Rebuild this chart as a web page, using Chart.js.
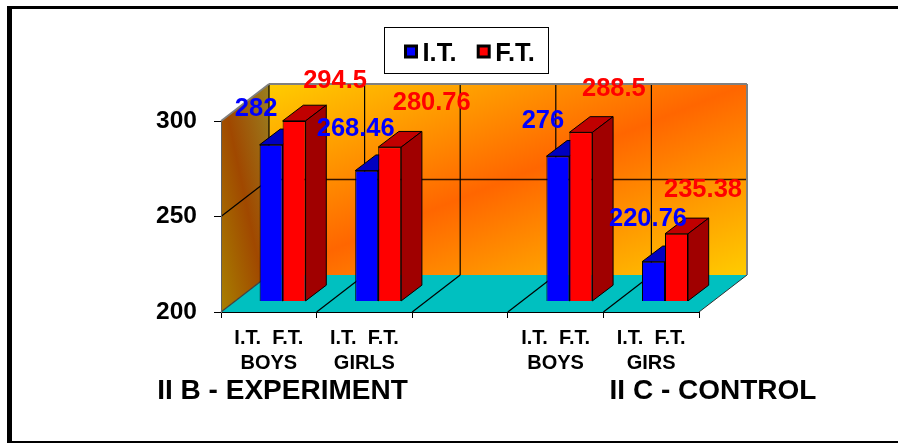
<!DOCTYPE html>
<html>
<head>
<meta charset="utf-8">
<style>
  html, body { margin: 0; padding: 0; background: #fff; }
  canvas { display: block; }
</style>
<script src="https://cdn.jsdelivr.net/npm/chart.js@4/dist/chart.umd.min.js"></script>
</head>
<body>
<canvas id="chart" width="898" height="443"></canvas>
<script>
const categories = [
  ["I.T.  F.T.", "BOYS"],
  ["I.T.  F.T.", "GIRLS"],
  "",
  ["I.T.  F.T.", "BOYS"],
  ["I.T.  F.T.", "GIRS"],
];
const itValues = [282, 268.46, null, 276, 220.76];
const ftValues = [294.5, 280.76, null, 288.5, 235.38];
const groupTitles = ["II B - EXPERIMENT", "II C - CONTROL"];
const axisMin = 200;
const axisMax = 300;

const FONT = '"Liberation Sans", Arial, sans-serif';

// 3d look of the old excel chart
const depthX = 48;
const depthY = 37;
const barShiftX = 13.8;
const barShiftY = 10.6;
const barDepthX = 20.7;
const barDepthY = 15.7;

// data labels were moved by hand in the original, so each one has its own offset from the bar top
const itLabelOffsets = [[-15, -37], [-11, -43], null, [-15, -36], [-5.5, -44]];
const ftLabelOffsets = [[41, -41], [42, -45], null, [33, -44], [26.5, -45]];
const groupTitlePos = [[282.5, 391], [713, 391]];

function diagGradient(ctx, x0, y0, x1, y1, up, stops) {
  let w = x1 - x0;
  let h = y1 - y0;
  let len = Math.sqrt(w * w + h * h);
  let half = (w * h) / len;
  let nx = h / len;
  let ny = ((up ? -1 : 1) * w) / len;
  let cx = (x0 + x1) / 2;
  let cy = (y0 + y1) / 2;
  let g = ctx.createLinearGradient(cx - nx * half, cy - ny * half, cx + nx * half, cy + ny * half);
  stops.forEach((c, i) => g.addColorStop(i / (stops.length - 1), c));
  return g;
}

function poly(ctx, pts, fill, stroke, lw) {
  ctx.beginPath();
  pts.forEach((p, i) => (i ? ctx.lineTo(p[0], p[1]) : ctx.moveTo(p[0], p[1])));
  ctx.closePath();
  if (fill) {
    ctx.fillStyle = fill;
    ctx.fill();
  }
  if (stroke) {
    ctx.strokeStyle = stroke;
    ctx.lineWidth = lw || 1;
    ctx.stroke();
  }
}

function line(ctx, x0, y0, x1, y1, color, lw) {
  ctx.beginPath();
  ctx.moveTo(x0, y0);
  ctx.lineTo(x1, y1);
  ctx.strokeStyle = color;
  ctx.lineWidth = lw;
  ctx.stroke();
}

const frame3d = {
  id: "frame3d",
  beforeDraw(chart) {
    let ctx = chart.ctx;
    let a = chart.chartArea;
    let y = chart.scales.y;
    let catW = (a.right - a.left) / categories.length;

    ctx.save();
    // outer frame, the right side has none
    ctx.fillStyle = "#000";
    ctx.fillRect(7, 6, 891, 3);
    ctx.fillRect(7, 6, 5, 437);
    ctx.fillRect(7, 441, 891, 2);

    let backL = a.left + depthX;
    let backR = a.right + depthX;
    let backT = a.top - depthY;
    let backB = a.bottom - depthY;

    // back wall
    poly(ctx, [[backL, backT], [backR, backT], [backR, backB], [backL, backB]],
      diagGradient(ctx, backL, backT, backR, backB, false, ["#ffcc00", "#ff6600", "#ffcc00"]));
    // side wall
    poly(ctx, [[a.left, a.top], [backL, backT], [backL, backB], [a.left, a.bottom]],
      diagGradient(ctx, a.left, backT, backL, a.bottom, true, ["#a88000", "#a04800", "#9a8020"]));
    // floor
    poly(ctx, [[a.left, a.bottom], [a.right, a.bottom], [backR, backB], [backL, backB]], "#00c0c0");

    // value grid lines
    y.ticks.forEach((t) => {
      let py = y.getPixelForValue(t.value);
      if (t.value === y.min || t.value === y.max) return;
      line(ctx, a.left, py, backL, py - depthY, "#000", 1.2);
      line(ctx, backL, py - depthY, backR, py - depthY, "#301000", 1.6);
    });

    // category lines on back wall and floor
    for (let i = 0; i <= categories.length; i++) {
      let px = a.left + i * catW;
      if (i > 0 && i < categories.length) {
        line(ctx, px + depthX, backT, px + depthX, backB, "#000", 1.2);
      }
      if (i === 0) {
        line(ctx, backL, backT, backL, backB, "#000", 1.2);
      }
      if (i < categories.length) {
        line(ctx, px, a.bottom, px + depthX, backB, i === 0 ? "#404040" : "#000", 1.2);
      }
    }
    line(ctx, a.right, a.bottom, backR, backB, "#303030", 1);

    // grey wall edges
    line(ctx, a.left, a.top, backL, backT, "#808080", 1.6);
    line(ctx, backL, backT, backR, backT, "#808080", 2);
    line(ctx, backR, backT, backR, backB, "#808080", 2);
    ctx.restore();
  },
  beforeDatasetsDraw(chart) {
    let ctx = chart.ctx;
    ctx.save();
    ctx.translate(barShiftX, -barShiftY);
    // top and side faces first, front faces come from chart.js on top of them
    chart.data.datasets.forEach((ds, di) => {
      chart.getDatasetMeta(di).data.forEach((bar, i) => {
        if (ds.data[i] == null) return;
        let l = bar.x - bar.width / 2;
        let r = bar.x + bar.width / 2;
        poly(ctx, [[l, bar.y], [l + barDepthX, bar.y - barDepthY], [r + barDepthX, bar.y - barDepthY], [r, bar.y]],
          ds.topColor, "#000", 1);
        poly(ctx, [[r, bar.y], [r + barDepthX, bar.y - barDepthY], [r + barDepthX, bar.base - barDepthY], [r, bar.base]],
          ds.sideColor, "#000", 1);
      });
    });
  },
  afterDatasetsDraw(chart) {
    let ctx = chart.ctx;
    ctx.restore();

    // data labels
    ctx.save();
    ctx.font = "bold 25.5px " + FONT;
    ctx.textAlign = "center";
    ctx.textBaseline = "middle";
    chart.data.datasets.forEach((ds, di) => {
      ctx.fillStyle = ds.backgroundColor;
      chart.getDatasetMeta(di).data.forEach((bar, i) => {
        if (ds.data[i] == null) return;
        let off = ds.labelOffsets[i];
        ctx.fillText(String(ds.data[i]), bar.x + barShiftX + off[0], bar.y - barShiftY + off[1] + 1);
      });
    });
    ctx.restore();
  },
  afterDraw(chart) {
    let ctx = chart.ctx;
    ctx.save();

    // group titles under the axis
    ctx.fillStyle = "#000";
    ctx.font = "bold 28px " + FONT;
    ctx.textAlign = "center";
    ctx.textBaseline = "middle";
    groupTitles.forEach((t, i) => ctx.fillText(t, groupTitlePos[i][0], groupTitlePos[i][1]));

    // legend box
    ctx.fillStyle = "#fff";
    ctx.fillRect(385, 27, 164, 47);
    ctx.strokeStyle = "#000";
    ctx.lineWidth = 1;
    ctx.strokeRect(384.5, 27.5, 164, 46);
    ctx.font = "bold 25.5px " + FONT;
    ctx.textAlign = "left";
    [405.5, 478.2].forEach((x, i) => {
      let ds = chart.data.datasets[i];
      ctx.fillStyle = ds.backgroundColor;
      ctx.fillRect(x, 46, 11, 11);
      ctx.lineWidth = 3;
      ctx.strokeRect(x, 46, 11, 11);
      ctx.fillStyle = "#000";
      ctx.fillText(ds.label, x + 17, 53.5);
    });
    ctx.restore();
  },
};

new Chart(document.getElementById("chart"), {
  type: "bar",
  data: {
    labels: categories,
    datasets: [
      {
        label: "I.T.",
        data: itValues,
        base: axisMin,
        backgroundColor: "#0000ff",
        topColor: "#0000c0",
        sideColor: "#000090",
        labelOffsets: itLabelOffsets,
        borderColor: "#000",
        borderWidth: 1,
        clip: false,
      },
      {
        label: "F.T.",
        data: ftValues,
        base: axisMin,
        backgroundColor: "#ff0000",
        topColor: "#c00000",
        sideColor: "#a00000",
        labelOffsets: ftLabelOffsets,
        borderColor: "#000",
        borderWidth: 1,
        clip: false,
      },
    ],
  },
  options: {
    responsive: false,
    animation: false,
    categoryPercentage: 0.481,
    barPercentage: 1,
    layout: { padding: { left: 0, top: 121, right: 199, bottom: 0 } },
    plugins: {
      legend: { display: false },
      tooltip: { enabled: false },
    },
    scales: {
      x: {
        afterFit(scale) {
          scale.height = 131;
        },
        grid: { drawOnChartArea: false, color: "#000", tickLength: 6, tickWidth: 1 },
        border: { color: "#000", width: 1 },
        ticks: {
          color: "#000",
          font: { family: FONT, size: 20, weight: "bold", lineHeight: 1.25 },
          padding: 8,
          maxRotation: 0,
          autoSkip: false,
        },
      },
      y: {
        min: axisMin,
        max: axisMax,
        afterFit(scale) {
          scale.width = 221;
        },
        grid: { drawOnChartArea: false, color: "#000", tickLength: 7, tickWidth: 1 },
        border: { color: "#606060", width: 1 },
        ticks: {
          color: "#000",
          stepSize: 50,
          font: { family: FONT, size: 24.5, weight: "bold" },
          padding: 17,
        },
      },
    },
  },
  plugins: [frame3d],
});
</script>
</body>
</html>
